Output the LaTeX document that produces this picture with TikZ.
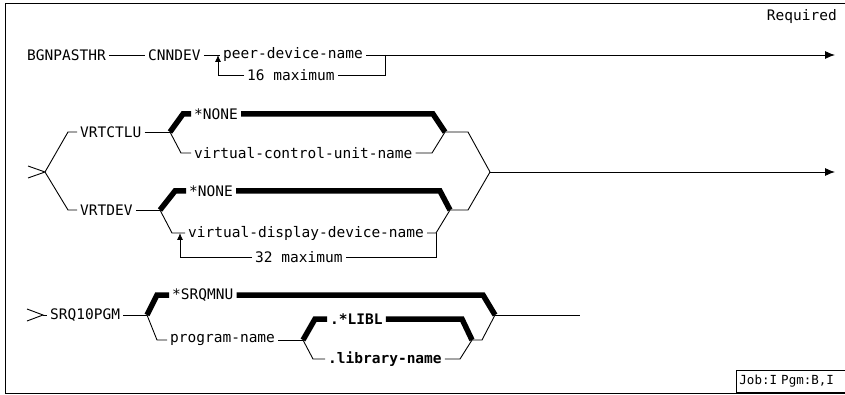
\documentclass[tikz,border=0pt]{standalone}
\usepackage{fontspec}
\newfontfamily\railfont{DejaVu Sans Mono}
\usetikzlibrary{arrows.meta}
\tikzset{
  rail/.style={line width=0.9pt},
  defrail/.style={line width=5.5pt},
  lbl/.style={font=\railfont\fontsize{14.5}{16}\selectfont, inner sep=3pt, anchor=west},
  endtip/.style={-{Latex[length=10pt,width=8pt]}},
  looptip/.style={-{Latex[length=7pt,width=6pt]}},
}
\begin{document}
\begin{tikzpicture}[x=1pt,y=-1pt]
\useasboundingbox (0,0) rectangle (845,395);

% frame
\draw [rail] (845,3) -- (5,3) -- (5,393) -- (845,393);
\node [lbl,anchor=east] (req) at (840,17) {Required};
\node [lbl,draw,rail,anchor=south west,minimum height=22pt,text width=106pt,align=left,
  font=\railfont\fontsize{12.5}{14}\selectfont] (job) at (736,393) {Job:I Pgm:B,I};

% BGNPASTHR
\node [lbl] (bgn) at (24,55) {BGNPASTHR};
\node [lbl] (cnn) at (145,55) {CNNDEV};
\node [lbl] (peer) at (220,55) {peer-device-name};
\node [lbl] (max16) at (244,75) {16 maximum};
\coordinate (j1) at (218,55);
\coordinate (r1) at (385,55);
\coordinate (e1) at (835,55);
\draw [rail] (bgn) -- (cnn);
\draw [rail] (cnn) -- (peer);
\draw [rail,endtip] (peer) -- (e1);
\draw [rail] (r1) |- (max16.east);
\draw [rail,looptip] (max16.west) -| (j1);

% VRTCTLU / VRTDEV
\coordinate (in2) at (45,172);
\draw [rail] (28,166) -- (in2) -- (28,178);
\node [lbl] (ctlu) at (77,132) {VRTCTLU};
\node [lbl] (dev) at (77,210) {VRTDEV};
\draw [rail] (in2) -- ++(23,-40) -- (ctlu.west);
\draw [rail] (in2) -- ++(23,38) -- (dev.west);

\coordinate (jc) at (170,132);
\coordinate (kc) at (445,132);
\node [lbl] (ctlunone) at (191,114) {*NONE};
\node [lbl] (ctluname) at (191,153) {virtual-control-unit-name};
\draw [rail] (ctlu.east) -- (jc);
\draw [defrail] (jc) -- (183,114) -- (ctlunone.west);
\draw [defrail] (ctlunone.east) -- (433,114) -- (kc);
\draw [rail] (jc) -- (181,153) -- (ctluname.west);
\draw [rail] (ctluname.east) -- (432,153) -- (kc);

\coordinate (jd) at (160,210);
\coordinate (kd) at (450,210);
\coordinate (jl) at (180,233);
\coordinate (rd) at (436,233);
\node [lbl] (devnone) at (186,191) {*NONE};
\node [lbl] (devname) at (185,233) {virtual-display-device-name};
\node [lbl] (max32) at (252,257) {32 maximum};
\draw [rail] (dev.east) -- (jd);
\draw [defrail] (jd) -- (175,191) -- (devnone.west);
\draw [defrail] (devnone.east) -- (440,191) -- (kd);
\draw [rail] (jd) -- (172,233) -- (devname.west);
\draw [rail] (devname.east) -- (rd) -- (kd);
\draw [rail] (rd) |- (max32.east);
\draw [rail,looptip] (max32.west) -| (jl);

\coordinate (m2) at (490,172);
\coordinate (e2) at (835,172);
\draw [rail] (kc) -- (468,132) -- (m2);
\draw [rail] (kd) -- (468,210) -- (m2);
\draw [rail,endtip] (m2) -- (e2);

% SRQ10PGM
\coordinate (in3) at (43,315);
\draw [rail] (27,309) -- (in3) -- (27,321);
\node [lbl] (srq) at (47,315) {SRQ10PGM};
\draw [rail] (in3) -- (srq);
\coordinate (js) at (147,315);
\coordinate (ks) at (495,315);
\coordinate (e3) at (580,315);
\node [lbl] (mnu) at (169,295) {*SRQMNU};
\node [lbl] (pgm) at (167,340) {program-name};
\draw [rail] (srq.east) -- (js);
\draw [defrail] (js) -- (157,295) -- (mnu.west);
\draw [defrail] (mnu.east) -- (483,295) -- (ks);
\draw [rail] (js) -- (157,340) -- (pgm.west);

\coordinate (jp) at (303,340);
\coordinate (kp) at (472,340);
\node [lbl,font=\railfont\bfseries\fontsize{14.5}{16}\selectfont] (libl) at (327,319) {.*LIBL};
\node [lbl,font=\railfont\bfseries\fontsize{14.5}{16}\selectfont] (libn) at (325,359) {.library-name};
\draw [rail] (pgm.east) -- (jp);
\draw [defrail] (jp) -- (315,319) -- (libl.west);
\draw [defrail] (libl.east) -- (462,319) -- (kp);
\draw [rail] (jp) -- (313,359) -- (libn.west);
\draw [rail] (libn.east) -- (460,359) -- (kp);
\draw [rail] (kp) -- (482,340) -- (ks);
\draw [rail] (ks) -- (e3);
\end{tikzpicture}
\end{document}
